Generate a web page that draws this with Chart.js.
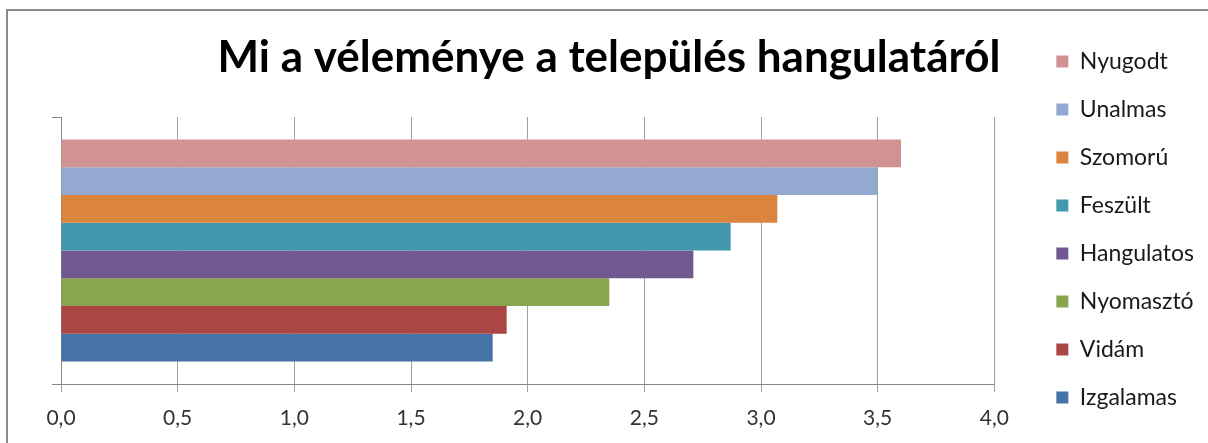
<!DOCTYPE html>
<html>
<head>
<meta charset="utf-8">
<script src="https://cdn.jsdelivr.net/npm/chart.js"></script>
<style>
    html, body { margin: 0; padding: 0; background: #fff; }
    #wrap { position: relative; width: 1208px; height: 443px; overflow: hidden; }
    #frame {
        position: absolute; left: 6px; top: 9px; width: 1300px; height: 500px;
        border-left: 2px solid #8a8a8a; border-top: 2px solid #8a8a8a;
        pointer-events: none;
    }
    canvas { position: absolute; left: 0; top: 0; }
</style>
</head>
<body>
<div id="wrap">
    <canvas id="chart" width="1208" height="443"></canvas>
    <div id="frame"></div>
</div>
<script>
// adatok
const categories = [""];
const seriesNames = ["Nyugodt", "Unalmas", "Szomorú", "Feszült", "Hangulatos", "Nyomasztó", "Vidám", "Izgalamas"];
const seriesValues = [3.60, 3.50, 3.07, 2.87, 2.71, 2.35, 1.91, 1.85];
const seriesColors = ["#D19392", "#93A9CF", "#DB843D", "#4198AF", "#71588F", "#89A54E", "#AA4643", "#4572A7"];
const chartTitle = "Mi a véleménye a település hangulatáról";

const FONT = "Lato";

const datasets = seriesNames.map((name, i) => ({
    label: name,
    data: [seriesValues[i]],
    backgroundColor: seriesColors[i],
    borderWidth: 0,
    categoryPercentage: 0.831,
    barPercentage: 1
}));

new Chart(document.getElementById("chart"), {
    type: "bar",
    data: { labels: categories, datasets },
    options: {
        responsive: false,
        animation: false,
        indexAxis: "y",
        layout: { padding: { left: 14, top: 25, right: 4, bottom: 5 } },
        plugins: {
            title: {
                display: true,
                text: chartTitle,
                color: "#000",
                font: { family: FONT, size: 44, weight: "bold" },
                padding: { top: 6.6, bottom: 32.6 }
            },
            legend: {
                position: "right",
                align: "start",
                labels: {
                    boxWidth: 12,
                    boxHeight: 12,
                    padding: 25,
                    color: "#1a1a1a",
                    font: { family: FONT, size: 23 }
                }
            },
            tooltip: { enabled: false }
        },
        scales: {
            x: {
                min: 0,
                max: 4,
                ticks: {
                    stepSize: 0.5,
                    padding: 14,
                    color: "#333",
                    font: { family: FONT, size: 21 },
                    callback: v => v.toFixed(1).replace(".", ",")
                },
                grid: { color: "#a0a0a0", tickLength: 8 },
                border: { color: "#888" },
                afterFit: s => { s.height = 54; }
            },
            y: {
                ticks: { display: false },
                grid: { display: true, drawOnChartArea: false, offset: true, tickLength: 9, color: "#888" },
                border: { color: "#888" },
                afterFit: s => { s.width = 47; }
            },
            gap: {
                type: "linear",
                position: "right",
                display: true,
                grid: { display: false },
                border: { display: false },
                ticks: { display: false },
                afterFit: s => { s.width = 37; }
            }
        }
    }
});
</script>
</body>
</html>
